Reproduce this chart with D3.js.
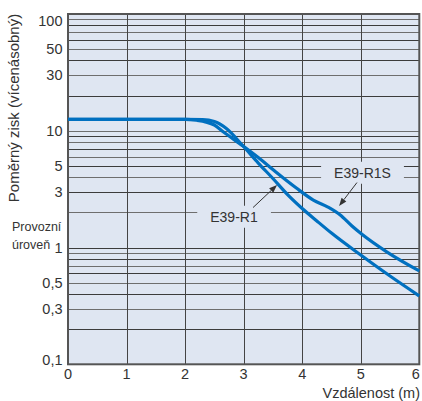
<!DOCTYPE html>
<html>
<head>
<meta charset="utf-8">
<script src="https://cdn.jsdelivr.net/npm/d3@7"></script>
<style>
  html, body { margin: 0; padding: 0; background: #fff; }
  svg { display: block; font-family: "Liberation Sans", Arial, sans-serif; }
</style>
</head>
<body>
<div id="chart"></div>
<script>
// data
const r1Distance = [0, 1, 2, 2.3, 2.5, 2.7, 2.99, 3.25, 3.5, 3.75, 4.0, 4.25, 4.5, 5.0, 5.5, 6];
const r1Gain = [12.5, 12.5, 12.5, 12.45, 12.0, 10.5, 7.4, 5.29, 3.9, 2.84, 2.16, 1.69, 1.33, 0.863, 0.57, 0.385];
const r1sDistance = [0, 1, 2, 2.2, 2.5, 2.65, 2.99, 3.25, 3.55, 3.9, 4.19, 4.44, 4.65, 4.85, 5.02, 5.45, 6];
const r1sGain = [12.5, 12.5, 12.5, 12.3, 11.2, 9.8, 7.4, 5.9, 4.43, 3.23, 2.55, 2.22, 1.9, 1.53, 1.30, 0.915, 0.63];

const xTicks = [0, 1, 2, 3, 4, 5, 6];
const yTickValues = [100, 50, 30, 10, 5, 3, 1, 0.5, 0.3, 0.1];
const yTickLabels = ["100", "50", "30", "10", "5", "3", "1", "0,5", "0,3", "0,1"];
const seriesNames = ["E39-R1", "E39-R1S"];

const W = 422, H = 401;
const margin = { left: 68, right: 2.7, top: 14, bottom: 36.7 };
const iw = W - margin.left - margin.right;
const ih = H - margin.top - margin.bottom;

const svg = d3.select('#chart').append('svg')
    .attr('width', W)
    .attr('height', H);

const x = d3.scaleLinear().domain([0, 6]).range([margin.left, margin.left + iw]);
const y = d3.scaleLog().domain([0.1, 100]).range([margin.top + ih, margin.top]);

// background
svg.append('rect')
    .attr('x', x(0)).attr('y', y(100))
    .attr('width', iw).attr('height', ih)
    .attr('fill', '#dfe6f2');

// horizontal grid: 1..9 per decade
const gridVals = [];
[0.1, 1, 10].forEach(d => {
    for (let k = 1; k <= 9; k++) gridVals.push(d * k);
});
const grid = svg.append('g').attr('shape-rendering', 'crispEdges');
grid.selectAll('line.h')
    .data(gridVals)
    .enter().append('line')
    .attr('class', 'h')
    .attr('x1', x(0)).attr('x2', x(6))
    .attr('y1', d => Math.round(y(d)) + 0.5)
    .attr('y2', d => Math.round(y(d)) + 0.5)
    .attr('stroke', (d, i) => i % 2 ? '#3c3c3c' : '#6e6e6e')
    .attr('stroke-width', 1);

grid.selectAll('line.v')
    .data(xTicks.slice(1, -1))
    .enter().append('line')
    .attr('class', 'v')
    .attr('x1', d => Math.round(x(d)) + 0.5)
    .attr('x2', d => Math.round(x(d)) + 0.5)
    .attr('y1', y(100)).attr('y2', y(0.1))
    .attr('stroke', '#444')
    .attr('stroke-width', 1);

// frame
svg.append('rect')
    .attr('x', x(0)).attr('y', y(100))
    .attr('width', iw).attr('height', ih)
    .attr('fill', 'none')
    .attr('stroke', '#555')
    .attr('stroke-width', 2);

// label boxes + arrows (data coordinates)
const labels = [
    { name: seriesNames[0], x: 2.835, v: 1.835, from: [3.16, 2.20], to: [3.57, 3.43] },
    { name: seriesNames[1], x: 5.03, v: 4.37, from: [4.935, 3.60], to: [4.63, 2.27] }
];

const ann = svg.append('g');
labels.forEach(l => {
    const g = ann.append('g');
    const bg = g.append('rect').attr('fill', '#dfe6f2');
    const t = g.append('text')
        .attr('x', x(l.x)).attr('y', y(l.v))
        .attr('dy', '0.36em')
        .attr('text-anchor', 'middle')
        .attr('font-size', 14)
        .attr('fill', '#333')
        .text(l.name);
    const bb = t.node().getBBox();
    bg.attr('x', bb.x - 13).attr('y', y(l.v) - 11)
        .attr('width', bb.width + 26).attr('height', 22);
});

// curves
const line = d3.line()
    .x(d => x(d[0]))
    .y(d => y(d[1]))
    .curve(d3.curveMonotoneX);

[[r1Distance, r1Gain], [r1sDistance, r1sGain]].forEach(([xs, gs]) => {
    svg.append('path')
        .datum(xs.map((d, i) => [d, gs[i]]))
        .attr('d', line)
        .attr('fill', 'none')
        .attr('stroke', '#0070c0')
        .attr('stroke-width', 3.2)
        .attr('stroke-linejoin', 'round');
});

// arrows
labels.forEach(l => {
    const x1 = x(l.from[0]), y1 = y(l.from[1]);
    const x2 = x(l.to[0]), y2 = y(l.to[1]);
    const ang = Math.atan2(y2 - y1, x2 - x1);
    const len = 8, half = 3;
    const bx = x2 - len * Math.cos(ang), by = y2 - len * Math.sin(ang);
    ann.append('line')
        .attr('x1', x1).attr('y1', y1).attr('x2', bx).attr('y2', by)
        .attr('stroke', '#333').attr('stroke-width', 1);
    ann.append('path')
        .attr('d', `M${x2},${y2}L${bx - half * Math.sin(ang)},${by + half * Math.cos(ang)}L${bx + half * Math.sin(ang)},${by - half * Math.cos(ang)}Z`)
        .attr('fill', '#333');
});

// y tick labels
svg.append('g').selectAll('text')
    .data(yTickValues)
    .enter().append('text')
    .attr('x', 62.5)
    .attr('y', d => y(d))
    .attr('dy', d => d === 100 ? '0.8em' : d === 0.1 ? '0.05em' : '0.36em')
    .attr('text-anchor', 'end')
    .attr('font-size', 14.5)
    .attr('fill', '#333')
    .text((d, i) => yTickLabels[i]);

// x tick labels
svg.append('g').selectAll('text')
    .data(xTicks)
    .enter().append('text')
    .attr('x', d => d === 6 ? x(d) + 0.5 : x(d))
    .attr('y', y(0.1) + 15)
    .attr('text-anchor', d => d === 6 ? 'end' : 'middle')
    .attr('font-size', 14.5)
    .attr('fill', '#333')
    .text(d => d);

// axis titles
svg.append('text')
    .attr('x', 420).attr('y', 398)
    .attr('text-anchor', 'end')
    .attr('font-size', 14.5)
    .attr('fill', '#333')
    .text('Vzdálenost (m)');

svg.append('text')
    .attr('transform', 'translate(19,108) rotate(-90)')
    .attr('text-anchor', 'middle')
    .attr('font-size', 15)
    .attr('fill', '#333')
    .text('Poměrný zisk (vícenásobný)');

svg.append('text')
    .attr('x', 12).attr('y', 231)
    .attr('font-size', 12.5)
    .attr('fill', '#333')
    .text('Provozní');
svg.append('text')
    .attr('x', 12).attr('y', 249)
    .attr('font-size', 12.5)
    .attr('fill', '#333')
    .text('úroveň');
</script>
</body>
</html>
